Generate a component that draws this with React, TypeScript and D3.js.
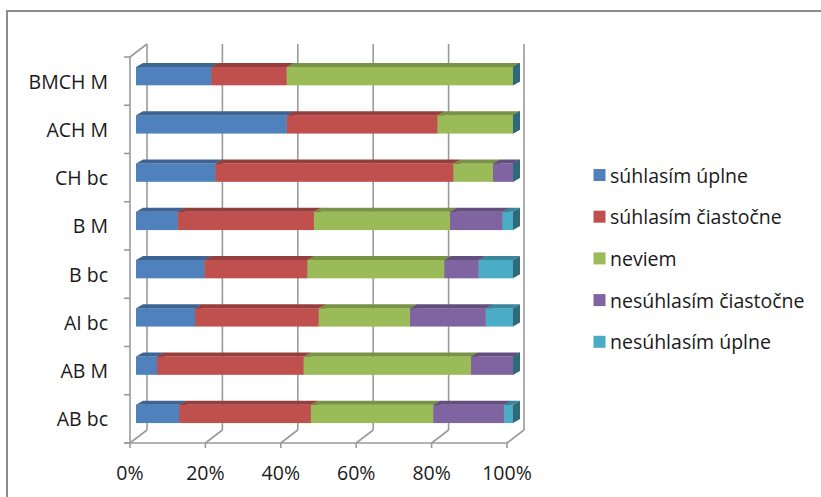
import React from "react";
import * as d3 from "d3";

const categories = ["BMCH M", "ACH M", "CH bc", "B M", "B bc", "AI bc", "AB M", "AB bc"];
const seriesNames = ["súhlasím úplne", "súhlasím čiastočne", "neviem", "nesúhlasím čiastočne", "nesúhlasím úplne"];
const suhlasimUplne = [20, 40, 21.1, 11.1, 18.2, 15.7, 5.6, 11.5];
const suhlasimCiastocne = [20, 40, 63.2, 36.1, 27.3, 32.8, 38.9, 34.9];
const neviem = [60, 20, 10.5, 36.1, 36.4, 24.2, 44.4, 32.5];
const nesuhlasimCiastocne = [0, 0, 5.3, 13.9, 9.1, 20.1, 11.1, 18.7];
const nesuhlasimUplne = [0, 0, 0, 2.8, 9.1, 7.2, 0, 2.4];
const colors = ["#4F81BD", "#C0504D", "#9BBB59", "#8064A2", "#4BACC6"];
const tickValues = [0, 0.2, 0.4, 0.6, 0.8, 1];

const W = 821;
const H = 497;
const FONT = "'Open Sans', sans-serif";

export default function App() {
  const seriesValues = [suhlasimUplne, suhlasimCiastocne, neviem, nesuhlasimCiastocne, nesuhlasimUplne];
  const rows = categories.map((c, i) => {
    const r: any = { cat: c };
    seriesNames.forEach((s, k) => (r[s] = seriesValues[k][i]));
    return r;
  });
  const stack = d3.stack<any>().keys(seriesNames).offset(d3.stackOffsetExpand);
  const stacked = stack(rows);

  const x = d3.scaleLinear().domain([0, 1]).range([130, 507]);
  const y = d3.scaleBand<string>().domain(categories).range([57, 443]);
  const bw = y.bandwidth();

  // wall depth
  const WDX = 17, WDY = -13;
  // bar placement inside depth
  const BX = 6, BY = -5;
  const DDX = 7, DDY = -4;
  const barH = 18.4;

  const grid = "#9a9a9a";

  const boundaries = d3.range(categories.length + 1).map((i) => 57 + i * bw);

  return (
    <svg width={W} height={H} style={{ position: "absolute", left: 0, top: 0, background: "#fff" }}>
      <rect x={7} y={11} width={W + 20} height={H + 20} fill="#fff" stroke="#8c8c8c" strokeWidth={2} />
      {/* back wall gridlines */}
      {tickValues.map((t) => (
        <line key={"g" + t} x1={x(t) + WDX} x2={x(t) + WDX} y1={57 + WDY} y2={443 + WDY} stroke={grid} strokeWidth={1.6} />
      ))}
      {/* floor diagonals */}
      {tickValues.map((t) => (
        <line key={"f" + t} x1={x(t)} x2={x(t) + WDX} y1={443} y2={443 + WDY} stroke={grid} strokeWidth={1.6} />
      ))}
      {/* left wall top diagonal */}
      <line x1={x(0)} y1={57} x2={x(0) + WDX} y2={57 + WDY} stroke={grid} strokeWidth={1.6} />
      {/* front left axis */}
      <line x1={x(0)} y1={57} x2={x(0)} y2={443} stroke={grid} strokeWidth={1.6} />
      {boundaries.map((b, i) => (
        <line key={"yt" + i} x1={x(0) - 6} x2={x(0)} y1={b} y2={b} stroke={grid} strokeWidth={1.6} />
      ))}
      {/* bottom axis */}
      <line x1={x(0) - 6} x2={x(1)} y1={443} y2={443} stroke={grid} strokeWidth={1.6} />
      {tickValues.map((t) => (
        <line key={"xt" + t} x1={x(t)} x2={x(t)} y1={443} y2={448} stroke={grid} strokeWidth={1.6} />
      ))}
      {/* bars */}
      {categories.map((c, ci) => {
        const cy = (y(c) as number) + bw / 2 + BY;
        const top = cy - barH / 2;
        const bot = cy + barH / 2;
        return (
          <g key={c}>
            {stacked.map((s, si) => {
              const x0 = x(s[ci][0]) + BX;
              const x1 = x(s[ci][1]) + BX;
              const col = colors[si];
              const topCol = d3.color(col)!.darker(0.7).toString();
              const sideCol = d3.color(col)!.darker(1.35).toString();
              return (
                <g key={si}>
                  {x1 - x0 > 0.01 && (
                    <>
                      <rect x={x0} y={top} width={x1 - x0} height={barH} fill={col} />
                      <polygon
                        points={`${x0},${top} ${x1},${top} ${x1 + DDX},${top + DDY} ${x0 + DDX},${top + DDY}`}
                        fill={topCol}
                      />
                    </>
                  )}
                  <polygon
                    points={`${x1},${top} ${x1 + DDX},${top + DDY} ${x1 + DDX},${bot + DDY} ${x1},${bot}`}
                    fill={sideCol}
                  />
                </g>
              );
            })}
          </g>
        );
      })}
      {/* category labels */}
      {categories.map((c) => (
        <text
          key={"l" + c}
          x={108}
          y={(y(c) as number) + bw / 2}
          textAnchor="end"
          dominantBaseline="central"
          fontFamily={FONT}
          fontSize={19.5}
          fill="#1a1a1a"
        >
          {c}
        </text>
      ))}
      {/* x labels */}
      {tickValues.map((t) => (
        <text
          key={"xl" + t}
          x={x(t)}
          y={472}
          textAnchor="middle"
          dominantBaseline="central"
          fontFamily={FONT}
          fontSize={19.5}
          fill="#1a1a1a"
        >
          {d3.format(".0%")(t)}
        </text>
      ))}
      {/* legend */}
      {seriesNames.map((s, i) => {
        const ly = 175 + i * 41.7;
        return (
          <g key={"lg" + s}>
            <rect x={593.5} y={ly - 6} width={12} height={12} fill={colors[i]} />
            <text x={610} y={ly} dominantBaseline="central" fontFamily={FONT} fontSize={19.5} fill="#1a1a1a">
              {s}
            </text>
          </g>
        );
      })}
    </svg>
  );
}
